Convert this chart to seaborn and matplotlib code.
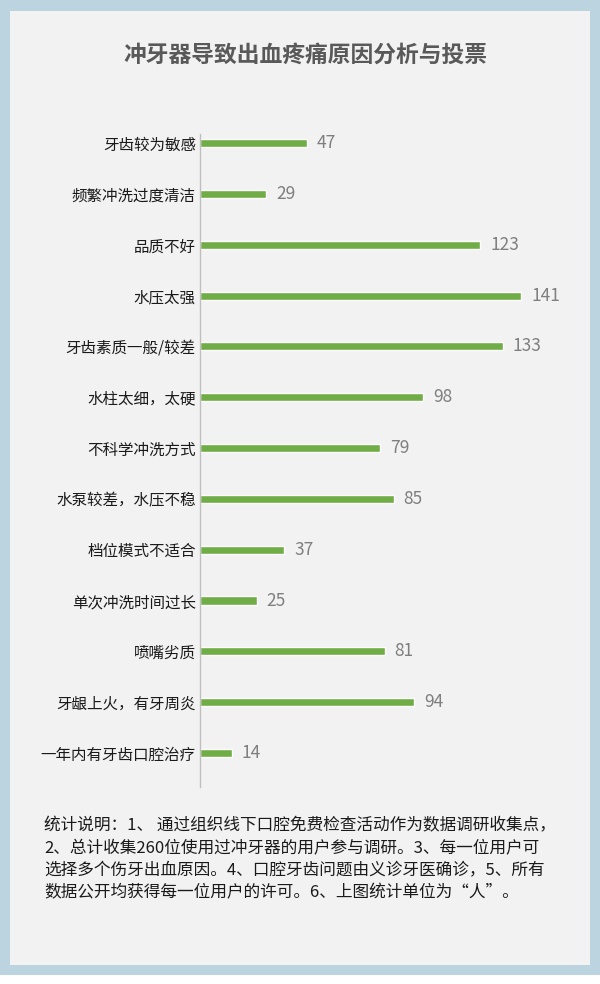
import matplotlib
matplotlib.use('Agg')
import matplotlib.pyplot as plt
import seaborn as sns
import pandas as pd
from matplotlib.patches import Rectangle

# Chart data
categories = ['牙齿较为敏感', '频繁冲洗过度清洁', '品质不好', '水压太强', '牙齿素质一般/较差',
              '水柱太细，太硬', '不科学冲洗方式', '水泵较差，水压不稳', '档位模式不适合',
              '单次冲洗时间过长', '喷嘴劣质', '牙龈上火，有牙周炎', '一年内有牙齿口腔治疗']
votes = [47, 29, 123, 141, 133, 98, 79, 85, 37, 25, 81, 94, 14]

title = '冲牙器导致出血疼痛原因分析与投票'
note = ('统计说明：1、 通过组织线下口腔免费检查活动作为数据调研收集点，\n'
        '2、总计收集260位使用过冲牙器的用户参与调研。3、每一位用户可\n'
        '选择多个伤牙出血原因。4、口腔牙齿问题由义诊牙医确诊，5、所有\n'
        '数据公开均获得每一位用户的许可。6、上图统计单位为“人”。')

sns.set_theme(style='white')
plt.rcParams['font.family'] = ['Noto Sans CJK SC', 'DejaVu Sans']

W, H = 600, 984
fig = plt.figure(figsize=(W / 100, H / 100), dpi=100)
fig.patch.set_facecolor('white')

# blue frame and grey panel
fig.patches.append(Rectangle((0, 9 / H), 1, 1 - 9 / H, transform=fig.transFigure,
                             facecolor='#bcd4e0', edgecolor='none', zorder=-2))
fig.patches.append(Rectangle((10 / W, 1 - 965 / H), 580 / W, 954 / H, transform=fig.transFigure,
                             facecolor='#f2f2f2', edgecolor='none', zorder=-1))

df = pd.DataFrame({'reason': categories, 'votes': votes})

ax = fig.add_axes([200 / W, 1 - 787 / H, 380 / W, 653 / H])
ax.set_facecolor('none')
sns.barplot(data=df, x='votes', y='reason', color='#70ad47', width=0.16,
            saturation=1, ax=ax)
ax.bar_label(ax.containers[0], padding=7, fontsize=12.5, color='#7f7f7f')

ax.set_xlim(0, 166.7)
ax.set_ylim(12.67, -0.18)
ax.set_xlabel('')
ax.set_ylabel('')
ax.set_xticks([])
for s in ['top', 'right', 'bottom']:
    ax.spines[s].set_visible(False)
ax.spines['left'].set_color('#bfbfbf')
ax.spines['left'].set_linewidth(1)
ax.tick_params(axis='y', length=0, pad=3, labelsize=11.2, labelcolor='#1a1a1a')

fig.text(305 / W, 1 - 55 / H, title, ha='center', va='center', fontsize=16.4,
         fontweight='bold', color='#595959')

fig.text(44 / W, 1 - 859.5 / H, note, ha='left', va='center', fontsize=12,
         color='#1a1a1a', linespacing=1.4)

fig.savefig('out.png', dpi=100, facecolor=fig.get_facecolor())
